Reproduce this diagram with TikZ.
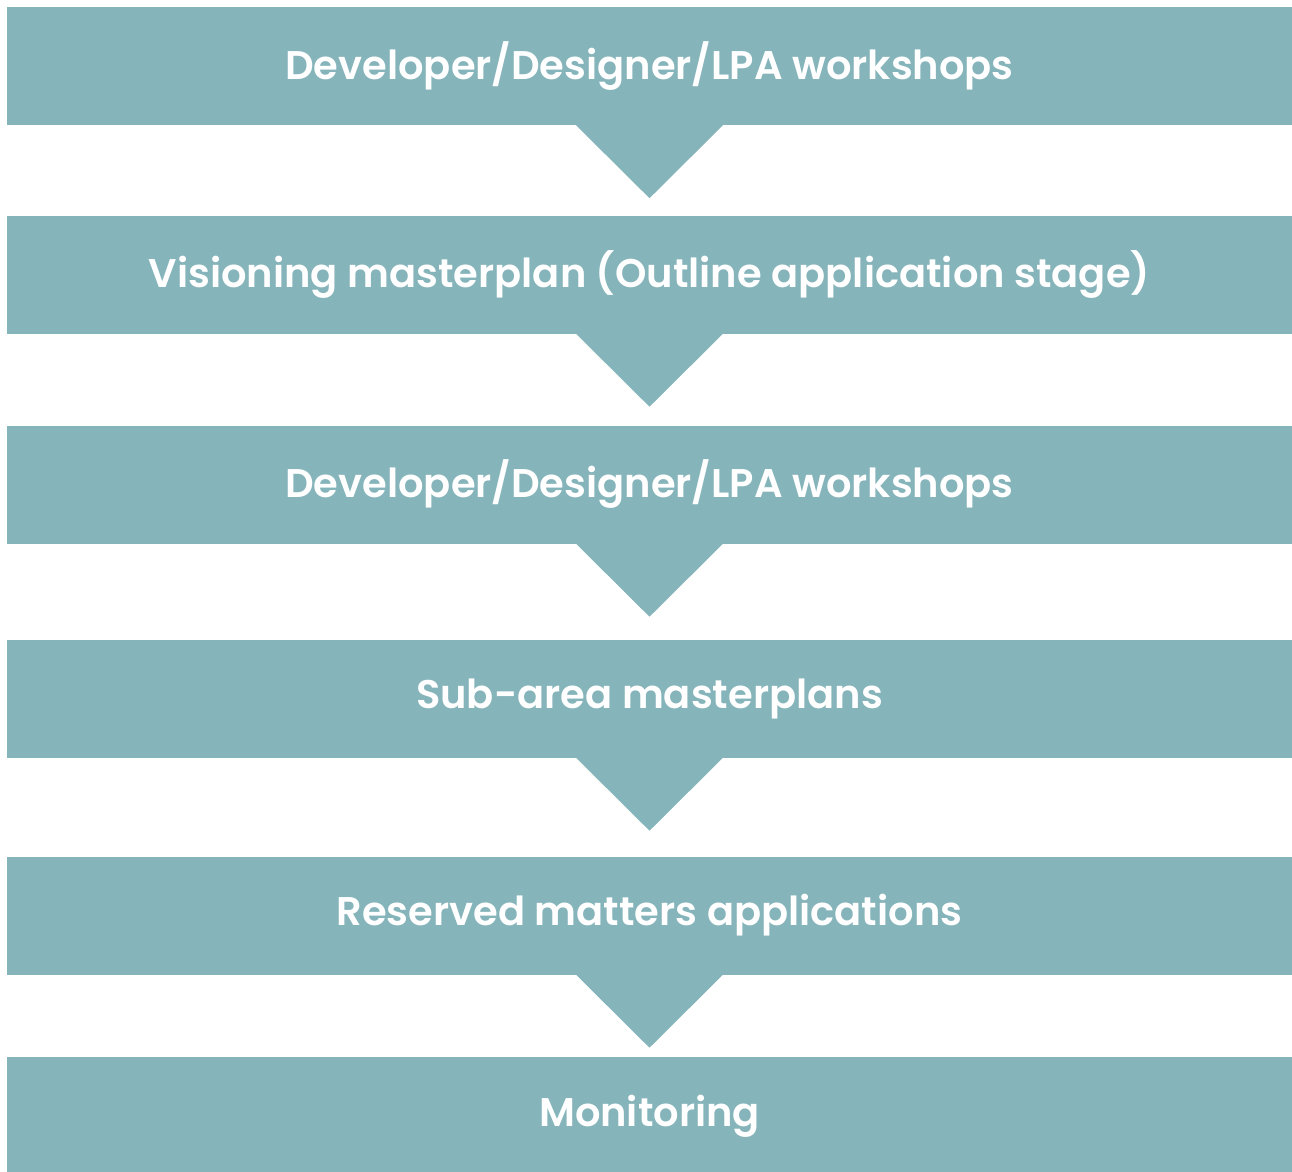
\documentclass[tikz,border=0pt]{standalone}
\usepackage{fontspec}
\setsansfont{Poppins}[BoldFont=* SemiBold]
\definecolor{stagecolor}{HTML}{85B4BA}

\begin{document}
\begin{tikzpicture}[x=1pt,y=-1pt,stage box/.style={fill=stagecolor,minimum width=1285pt,minimum height=118pt,inner sep=0pt,text=white,font=\sffamily\bfseries\fontsize{40}{48}\selectfont},stage arrow/.style={fill=stagecolor}]
                \useasboundingbox (0,0) rectangle (1292,1171);

                \node[stage box] (s1) at (649.5,66) {Developer/Designer/LPA workshops};
                \node[stage box] (s2) at (649.5,274.5) {Visioning masterplan (Outline application stage)};
                \node[stage box] (s3) at (649.5,484.5) {Developer/Designer/LPA workshops};
                \node[stage box] (s4) at (649.5,698.5) {Sub-area masterplans};
                \node[stage box] (s5) at (649.5,915.5) {Reserved matters applications};
                \node[stage box] (s6) at (649.5,1116) {Monitoring};

                % arrows between the stages
                \foreach \s in {1,...,5}
                    \fill[stage arrow] ([xshift=-73.5pt]s\s.south) -- ([xshift=73.5pt]s\s.south) -- ([yshift=-73pt]s\s.south) -- cycle;

            \end{tikzpicture}
\end{document}
